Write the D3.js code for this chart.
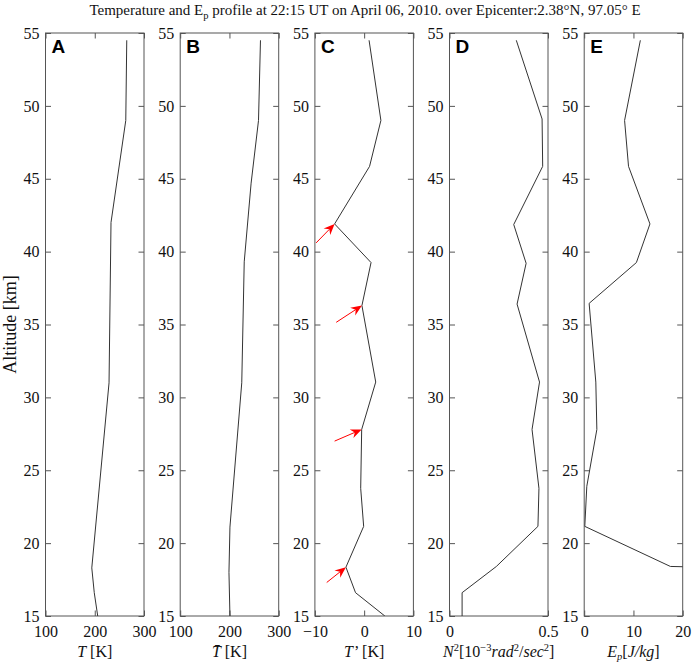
<!DOCTYPE html>
<html><head><meta charset="utf-8">
<script src="https://cdn.jsdelivr.net/npm/d3@7"></script>
<style>body{margin:0;background:#fff}svg{display:block}</style>
</head><body>
<svg id="c" width="692" height="663"></svg>
<script>
// ---- data ----
const altTicks = [15, 20, 25, 30, 35, 40, 45, 50, 55];

const altA = [54.5, 49, 42, 31, 18.3, 16.6, 15];
const tempA = [265, 263, 233, 229, 194, 199, 206];

const altB = [54.5, 49, 44.7, 39.3, 31, 21.1, 18, 15];
const tempB = [263, 259, 244, 230, 225, 201, 199, 201];

const altC = [54.5, 49, 45.85, 41.9, 39.25, 36.3, 31.05, 27.8, 23.76, 21.15, 18.35, 16.6, 15];
const tPrime = [1.0, 3.4, 1.1, -6.0, 1.4, -0.45, 2.35, -0.5, -0.7, -0.1, -3.7, -1.75, 4.2];

const altD = [54.5, 49.1, 45.85, 41.86, 39.2, 36.4, 31.05, 27.8, 23.76, 21.15, 18.4, 16.6, 15];
const n2 = [0.339, 0.470, 0.473, 0.326, 0.389, 0.343, 0.457, 0.419, 0.454, 0.449, 0.238, 0.064, 0.064];

const altE = [54.5, 49, 45.85, 41.9, 39.25, 36.45, 31.05, 27.8, 23.9, 21.15, 18.4, 16.6, 15];
const ep = [11.4, 8.2, 9.0, 13.35, 10.6, 1.0, 2.36, 2.57, 0.53, 0.12, 17.5, 250, 180];

const arrowTails = [[-9.75, 40.6], [-5.67, 35.15], [-6.0, 27.0], [-7.6, 17.3]];
const arrowTips = [[-6.0, 41.9], [-0.45, 36.3], [-0.5, 27.8], [-3.7, 18.35]];

const xTicksA = [100, 200, 300];
const xTicksB = [100, 200, 300];
const xTicksC = [-10, 0, 10];
const xTicksD = [0, 0.5];
const xTicksE = [0, 10, 20];

const panelLetters = ["A", "B", "C", "D", "E"];

// ---- layout ----
const plotTop = 33, plotBottom = 616, pw = 98.5;
const lefts = [45.5, 180.2, 314.9, 449.5, 584.2];
const tickLen = 5.5;
const frameColor = "#555", lineColor = "#333";
const serif = "'Liberation Serif','Times New Roman',serif";

const panels = [
  {alt: altA, val: tempA, dom: [100, 300], ticks: xTicksA},
  {alt: altB, val: tempB, dom: [100, 300], ticks: xTicksB},
  {alt: altC, val: tPrime, dom: [-10, 10], ticks: xTicksC},
  {alt: altD, val: n2, dom: [0, 0.5], ticks: xTicksD},
  {alt: altE, val: ep, dom: [0, 20], ticks: xTicksE}
];

const svg = d3.select("#c");
const y = d3.scaleLinear().domain([15, 55]).range([plotBottom, plotTop]);

// title
const title = svg.append("text").attr("x", 365).attr("y", 15)
  .attr("text-anchor", "middle").attr("font-family", serif).attr("font-size", 15).attr("fill", "#111");
title.append("tspan").text("Temperature and E");
title.append("tspan").attr("font-size", 10.5).attr("dy", 4).text("p");
title.append("tspan").attr("dy", -4).text(" profile at 22:15 UT on April 06, 2010. over Epicenter:2.38°N, 97.05° E");

panels.forEach((p, i) => {
  const g = svg.append("g").attr("transform", `translate(${lefts[i]},0)`);
  const x = d3.scaleLinear().domain(p.dom).range([0, pw]);
  const clipId = "clip" + i;
  g.append("clipPath").attr("id", clipId).append("rect")
    .attr("x", 0).attr("y", plotTop).attr("width", pw).attr("height", plotBottom - plotTop);

  const yl = g.append("g").call(d3.axisLeft(y).tickValues(altTicks).tickSize(-tickLen).tickPadding(6).tickFormat(d3.format("d")));
  const yr = g.append("g").attr("transform", `translate(${pw},0)`).call(d3.axisRight(y).tickValues(altTicks).tickSize(-tickLen).tickFormat(""));
  const xb = g.append("g").attr("transform", `translate(0,${plotBottom})`).call(d3.axisBottom(x).tickValues(p.ticks).tickSize(-tickLen).tickPadding(10).tickFormat(d => d3.format("")(d)));
  const xt = g.append("g").attr("transform", `translate(0,${plotTop})`).call(d3.axisTop(x).tickValues(p.ticks).tickSize(-tickLen).tickFormat(""));
  [yl, yr, xb, xt].forEach(a => {
    a.select(".domain").remove();
    a.selectAll("line").attr("stroke", frameColor);
    a.selectAll("text").attr("font-family", serif).attr("font-size", 16).attr("fill", "#111");
  });

  g.append("rect").attr("x", 0).attr("y", plotTop).attr("width", pw).attr("height", plotBottom - plotTop)
    .attr("fill", "none").attr("stroke", frameColor).attr("stroke-width", 1);

  const pts = p.alt.map((a, k) => [p.val[k], a]);
  g.append("path").datum(pts).attr("clip-path", `url(#${clipId})`)
    .attr("d", d3.line().x(d => x(d[0])).y(d => y(d[1])))
    .attr("fill", "none").attr("stroke", lineColor).attr("stroke-width", 1);

  g.append("text").attr("x", 6).attr("y", plotTop + 20).text(panelLetters[i])
    .attr("font-family", "'Liberation Sans',Arial,sans-serif").attr("font-weight", "bold")
    .attr("font-size", 19).attr("fill", "#000");

  if (i === 2) {
    arrowTails.forEach((t, k) => {
      const tip = arrowTips[k];
      const x0 = x(t[0]), y0 = y(t[1]), x1 = x(tip[0]), y1 = y(tip[1]);
      const dx = x1 - x0, dy = y1 - y0, L = Math.hypot(dx, dy);
      const ux = dx / L, uy = dy / L, nx = -uy, ny = ux;
      const hl = 11, hw = 4.6, notch = 7.5;
      g.append("line").attr("x1", x0).attr("y1", y0)
        .attr("x2", x1 - ux * notch).attr("y2", y1 - uy * notch)
        .attr("stroke", "#ff0000").attr("stroke-width", 1);
      const bx = x1 - ux * hl, by = y1 - uy * hl;
      const nxp = x1 - ux * notch, nyp = y1 - uy * notch;
      g.append("path").attr("d",
        `M${x1},${y1}L${bx + nx * hw},${by + ny * hw}L${nxp},${nyp}L${bx - nx * hw},${by - ny * hw}Z`)
        .attr("fill", "#ff0000").attr("stroke", "none");
    });
  }
});

const xlabY = 657;
const lab = (i) => svg.append("text").attr("x", lefts[i] + pw / 2).attr("y", xlabY)
  .attr("text-anchor", "middle").attr("font-family", serif).attr("font-size", 16).attr("fill", "#111");

let t = lab(0);
t.append("tspan").attr("font-style", "italic").text("T");
t.append("tspan").text(" [K]");

t = lab(1);
t.append("tspan").attr("font-style", "italic").text("T\u0304");
t.append("tspan").text(" [K]");

t = lab(2);
t.append("tspan").attr("font-style", "italic").text("T");
t.append("tspan").attr("dx", 1).text("\u2019 [K]");

t = lab(3);
t.append("tspan").attr("font-style", "italic").text("N");
t.append("tspan").attr("font-size", 10.5).attr("dy", -6).text("2");
t.append("tspan").attr("dy", 6).text("[10");
t.append("tspan").attr("font-size", 10.5).attr("dy", -6).text("\u22123");
t.append("tspan").attr("dy", 6).attr("font-style", "italic").text("rad");
t.append("tspan").attr("font-size", 10.5).attr("dy", -6).text("2");
t.append("tspan").attr("dy", 6).text("/");
t.append("tspan").attr("font-style", "italic").text("sec");
t.append("tspan").attr("font-size", 10.5).attr("dy", -6).text("2");
t.append("tspan").attr("dy", 6).text("]");

t = lab(4);
t.append("tspan").attr("font-style", "italic").text("E");
t.append("tspan").attr("font-style", "italic").attr("font-size", 10.5).attr("dy", 3).text("p");
t.append("tspan").attr("dy", -3).text("[");
t.append("tspan").attr("font-style", "italic").text("J/kg");
t.append("tspan").text("]");

svg.append("text").attr("transform", `translate(16,${(plotTop + plotBottom) / 2}) rotate(-90)`)
  .attr("text-anchor", "middle").attr("font-family", serif).attr("font-size", 18).attr("fill", "#111")
  .text("Altitude [km]");
</script>
</body></html>
